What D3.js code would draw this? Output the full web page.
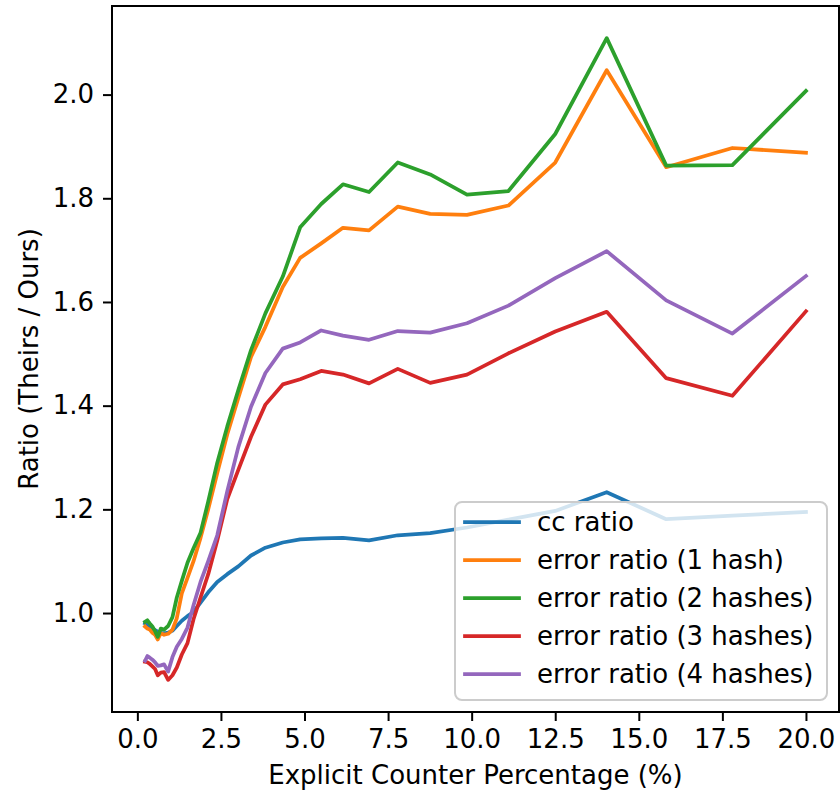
<!DOCTYPE html>
<html>
<head>
<meta charset="utf-8">
<script src="https://cdn.jsdelivr.net/npm/d3@7"></script>
<style>
  body { margin: 0; background: #fff; }
  svg { display: block; font-family: "DejaVu Sans", sans-serif; }
</style>
</head>
<body>
<div id="chart"></div>
<script>
// counter percentage (x) shared by every series
var pct = [0.23, 0.30, 0.37, 0.45, 0.53, 0.61, 0.70, 0.80, 0.92, 1.05, 1.18, 1.33, 1.50, 1.68, 1.89,
           2.12, 2.39, 2.69, 3.02, 3.40, 3.83, 4.35, 4.87, 5.50, 6.15, 6.93, 7.79, 8.76, 9.86, 11.1,
           12.5, 14.04, 15.82, 17.8, 20.0];

var ccRatio = [0.980, 0.978, 0.974, 0.970, 0.967, 0.964, 0.962, 0.961, 0.962, 0.966, 0.975, 0.985, 0.994, 1.002, 1.020,
               1.040, 1.060, 1.075, 1.090, 1.111, 1.126, 1.136, 1.142, 1.144, 1.145, 1.140, 1.150, 1.154, 1.165, 1.180,
               1.197, 1.233, 1.181, 1.188, 1.195];
var err1 = [0.974, 0.970, 0.968, 0.962, 0.958, 0.949, 0.961, 0.958, 0.960, 0.968, 0.990, 1.038, 1.068, 1.100, 1.145,
            1.200, 1.270, 1.345, 1.415, 1.494, 1.552, 1.629, 1.685, 1.713, 1.743, 1.738, 1.784, 1.770, 1.768, 1.786,
            1.869, 2.047, 1.860, 1.897, 1.888];
var err2 = [0.983, 0.986, 0.980, 0.974, 0.965, 0.954, 0.970, 0.968, 0.975, 0.992, 1.030, 1.062, 1.097, 1.125, 1.155,
            1.215, 1.290, 1.360, 1.430, 1.507, 1.578, 1.649, 1.744, 1.789, 1.827, 1.812, 1.869, 1.846, 1.807, 1.814,
            1.924, 2.109, 1.863, 1.864, 2.007];
var err3 = [0.906, 0.905, 0.902, 0.897, 0.892, 0.880, 0.885, 0.886, 0.871, 0.880, 0.895, 0.920, 0.942, 0.988, 1.030,
            1.075, 1.140, 1.220, 1.276, 1.340, 1.402, 1.441, 1.451, 1.467, 1.460, 1.443, 1.471, 1.444, 1.460, 1.501,
            1.543, 1.581, 1.453, 1.419, 1.582];
var err4 = [0.908, 0.917, 0.914, 0.910, 0.905, 0.898, 0.899, 0.901, 0.887, 0.915, 0.935, 0.950, 0.972, 1.015, 1.060,
            1.100, 1.150, 1.235, 1.320, 1.398, 1.463, 1.510, 1.522, 1.545, 1.535, 1.527, 1.544, 1.541, 1.559, 1.593,
            1.646, 1.698, 1.603, 1.539, 1.650];

var labels = ["cc ratio", "error ratio (1 hash)", "error ratio (2 hashes)", "error ratio (3 hashes)", "error ratio (4 hashes)"];
var colors = ["#1f77b4", "#ff7f0e", "#2ca02c", "#d62728", "#9467bd"];
var xTicks = [0, 2.5, 5, 7.5, 10, 12.5, 15, 17.5, 20];
var yTicks = [1.0, 1.2, 1.4, 1.6, 1.8, 2.0];

var series = [ccRatio, err1, err2, err3, err4].map(function(vals, i) {
  return { name: labels[i], color: colors[i], values: vals.map(function(v, j) { return [pct[j], v]; }) };
});

var W = 840, H = 796;
var plotL = 112, plotR = 839, plotT = 6, plotB = 712;
var fs = 26;

// matplotlib style 5% autoscale margins
function padded(ext) { var m = (ext[1] - ext[0]) * 0.05; return [ext[0] - m, ext[1] + m]; }
var allY = d3.merge([ccRatio, err1, err2, err3, err4]);

var x = d3.scaleLinear().domain(padded(d3.extent(pct))).range([plotL, plotR]);
var y = d3.scaleLinear().domain(padded(d3.extent(allY))).range([plotB, plotT]);

var svg = d3.select("#chart").append("svg")
    .attr("width", W)
    .attr("height", H);

svg.append("clipPath").attr("id", "clip")
  .append("rect")
    .attr("x", plotL).attr("y", plotT)
    .attr("width", plotR - plotL).attr("height", plotB - plotT);

var line = d3.line()
    .x(function(d) { return x(d[0]); })
    .y(function(d) { return y(d[1]); });

svg.append("g")
    .attr("clip-path", "url(#clip)")
  .selectAll("path")
  .data(series)
  .enter().append("path")
    .attr("d", function(d) { return line(d.values); })
    .attr("fill", "none")
    .attr("stroke", function(d) { return d.color; })
    .attr("stroke-width", 3.75)
    .attr("stroke-linejoin", "round")
    .attr("stroke-linecap", "square");

// axes
var xAxis = svg.append("g")
    .attr("transform", "translate(0," + plotB + ")")
    .call(d3.axisBottom(x).tickValues(xTicks).tickFormat(d3.format(".1f")).tickSize(9).tickPadding(9));
var yAxis = svg.append("g")
    .attr("transform", "translate(" + plotL + ",0)")
    .call(d3.axisLeft(y).tickValues(yTicks).tickFormat(d3.format(".1f")).tickSize(9).tickPadding(9));

[xAxis, yAxis].forEach(function(ax) {
  ax.select(".domain").remove();
  ax.selectAll(".tick line").attr("stroke", "#000").attr("stroke-width", 2);
  ax.selectAll(".tick text").attr("fill", "#000").style("font-size", fs + "px")
    .style("font-family", "DejaVu Sans, sans-serif");
});

// frame
svg.append("rect")
    .attr("x", plotL).attr("y", plotT)
    .attr("width", plotR - plotL).attr("height", plotB - plotT)
    .attr("fill", "none")
    .attr("stroke", "#000")
    .attr("stroke-width", 2);

svg.append("text")
    .attr("x", (plotL + plotR) / 2)
    .attr("y", 784)
    .attr("text-anchor", "middle")
    .style("font-size", fs + "px")
    .text("Explicit Counter Percentage (%)");

svg.append("text")
    .attr("transform", "translate(38," + (plotT + plotB) / 2 + ") rotate(-90)")
    .attr("text-anchor", "middle")
    .style("font-size", fs + "px")
    .text("Ratio (Theirs / Ours)");

// legend
var legend = svg.append("g").attr("transform", "translate(455,502)");
legend.append("rect")
    .attr("width", 372).attr("height", 198)
    .attr("rx", 7).attr("ry", 7)
    .attr("fill", "#fff").attr("fill-opacity", 0.8)
    .attr("stroke", "#cccccc").attr("stroke-width", 2);

var item = legend.selectAll("g.item")
  .data(series)
  .enter().append("g")
    .attr("class", "item")
    .attr("transform", function(d, i) { return "translate(0," + (20 + i * 38) + ")"; });

item.append("line")
    .attr("x1", 10).attr("x2", 64)
    .attr("stroke", function(d) { return d.color; })
    .attr("stroke-width", 3.75)
    .attr("stroke-linecap", "square");

item.append("text")
    .attr("x", 82)
    .attr("dy", "0.36em")
    .style("font-size", fs + "px")
    .text(function(d) { return d.name; });
</script>
</body>
</html>
